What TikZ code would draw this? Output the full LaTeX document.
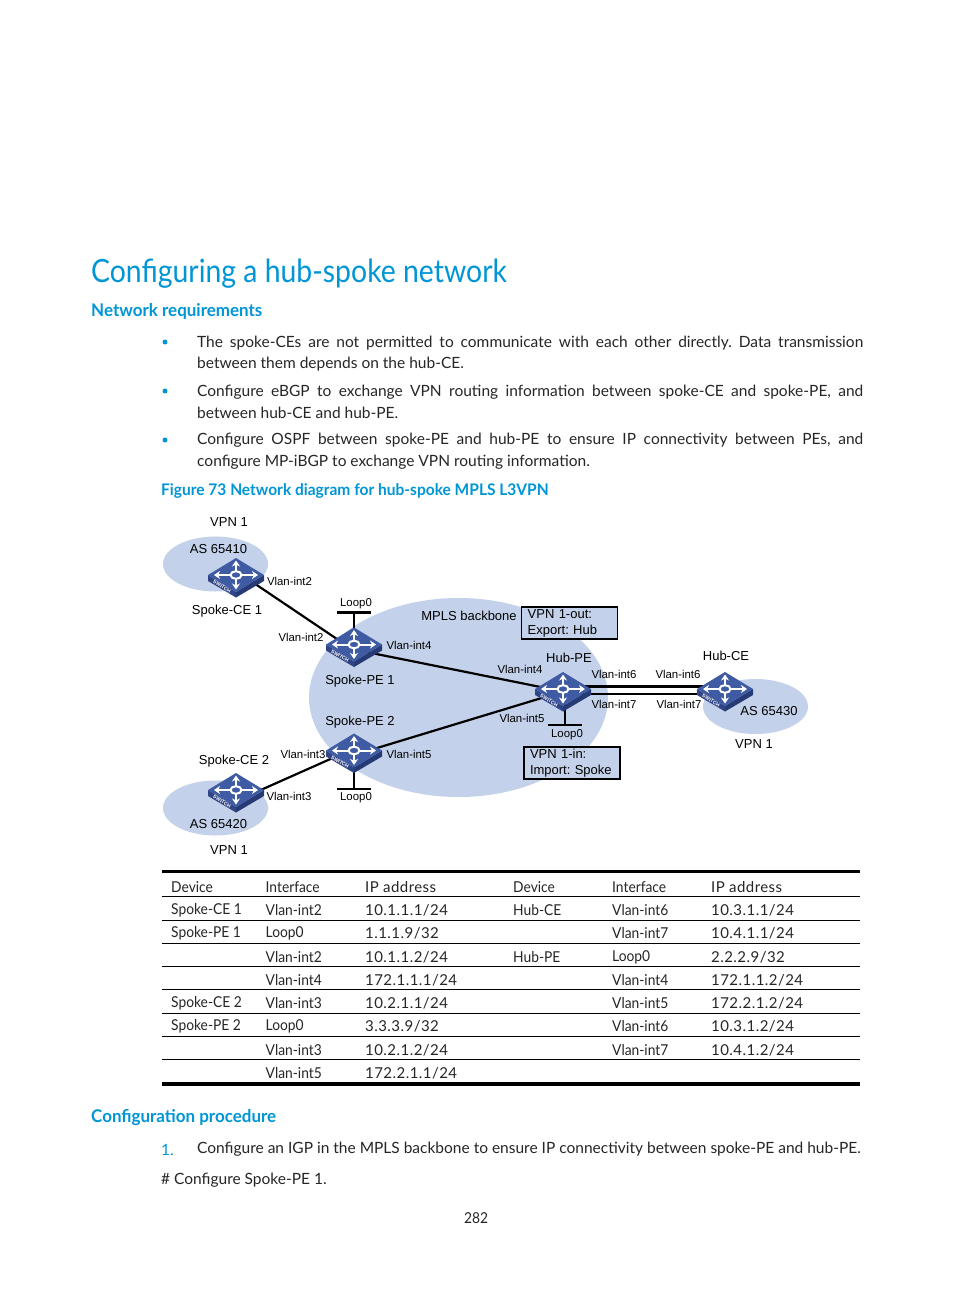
\documentclass[tikz,border=0pt]{standalone}
\usepackage{fontspec}
\setmainfont{Lato}
\newfontfamily\labelfont{Liberation Sans}
\newfontfamily\titlefont[FakeStretch=0.887]{Lato}
\newfontfamily\headfont[FakeStretch=0.97]{Lato}
\newfontfamily\cellfont[FakeStretch=0.92]{Lato}
\newfontfamily\ipfont[LetterSpace=3]{Lato}
\usetikzlibrary{arrows.meta}

\definecolor{hpblue}{HTML}{0096D6}
\definecolor{cloudfill}{HTML}{C3D1EA}
\definecolor{swtop}{HTML}{3F5BA3}
\definecolor{swleft}{HTML}{2F4585}
\definecolor{swright}{HTML}{263A75}

\newcommand{\justline}[1]{\makebox[666pt][s]{#1}}

\tikzset{
  cloud/.style={fill=cloudfill, draw=none},
  lbl/.style={font=\labelfont\fontsize{11.4}{13}\selectfont, inner sep=0pt},
  biglbl/.style={font=\labelfont\fontsize{13}{15}\selectfont, inner sep=0pt},
  vpnbox/.style={draw=black, line width=1.3pt, fill=cloudfill, minimum width=96pt, minimum height=32pt,
    inner sep=0pt, inner xsep=6pt, align=left, font=\labelfont\fontsize{13}{16}\selectfont, text width=84pt},
  link/.style={line width=2.2pt, draw=black},
  loopbar/.style={line width=2.2pt, draw=black},
  bodytext/.style={anchor=west, inner sep=0pt, align=left, font=\fontsize{15.5}{21.5}\selectfont, text=black!85},
  heading/.style={anchor=west, inner sep=0pt, text=hpblue, font=\headfont\bfseries\fontsize{17.5}{20}\selectfont},
  cell/.style={anchor=west, inner sep=0pt, font=\cellfont\fontsize{15}{18}\selectfont, text=black!85},
  ipcell/.style={anchor=west, inner sep=0pt, font=\ipfont\fontsize{15}{18}\selectfont, text=black!85},
  bullet/.style={circle, fill=hpblue, inner sep=0pt, minimum size=5pt},
  swarrow/.style={white, line width=2pt, -{Stealth[length=6pt,width=8pt]}},
  switch/.pic={
    \fill[swleft] (-28,0) -- (0,17) -- (0,22.5) -- (-28,6) -- cycle;
    \fill[swright] (28,0) -- (0,17) -- (0,22.5) -- (28,6) -- cycle;
    \fill[swtop] (-28,0) -- (0,-17) -- (28,0) -- (0,17) -- cycle;
    \draw[swarrow] (0,-4) -- (0,-14.5);
    \draw[swarrow] (0,4) -- (0,14.5);
    \draw[swarrow] (-6,0) -- (-22,0);
    \draw[swarrow] (6,0) -- (22,0);
    \draw[white, line width=2pt] (0,0) ellipse (5.5 and 3.8);
    \node[rotate=-31, white, inner sep=0pt, font=\labelfont\bfseries\fontsize{5}{5}\selectfont] at (-14,11.5) {SWITCH};
  }
}

\begin{document}
\frenchspacing
\begin{tikzpicture}[x=1pt, y=-1pt, >=Stealth]
  \fill[white] (0,0) rectangle (954,1296);
  \useasboundingbox (0,0) rectangle (954,1296);

  % page headings and text
  \node[anchor=west, inner sep=0pt, text=hpblue, font=\titlefont\fontsize{32}{36}\selectfont] (title) at (91,274) {Configuring a hub-spoke network};
  \node[heading] (netreq) at (91,311) {Network requirements};
  \node[bullet] (b1) at (165,342) {};
  \node[bodytext] (p1) at (197,353.5) {\justline{The spoke-CEs are not permitted to communicate with each other directly. Data transmission}\\between them depends on the hub-CE.};
  \node[bullet] (b2) at (165,391) {};
  \node[bodytext] (p2) at (197,402) {\justline{Configure eBGP to exchange VPN routing information between spoke-CE and spoke-PE, and}\\between hub-CE and hub-PE.};
  \node[bullet] (b3) at (165,440) {};
  \node[bodytext] (p3) at (197,451) {\justline{Configure OSPF between spoke-PE and hub-PE to ensure IP connectivity between PEs, and}\\configure MP-iBGP to exchange VPN routing information.};
  \node[heading, font=\headfont\bfseries\fontsize{16}{20}\selectfont] (figcap) at (161,491) {Figure 73 Network diagram for hub-spoke MPLS L3VPN};

  % clouds
  \fill[cloud] (215.5,564) ellipse (52.5 and 27.5);
  \fill[cloud] (215.5,808) ellipse (52.5 and 27.5);
  \fill[cloud] (755.5,706.5) ellipse (52.5 and 27.5);
  \fill[cloud] (458.5,697.5) ellipse (149.5 and 99.5);

  % devices
  \coordinate (spokece1) at (236,575);
  \coordinate (spokece2) at (236,790);
  \coordinate (spokepe1) at (354,644.5);
  \coordinate (spokepe2) at (354,750.5);
  \coordinate (hubpe) at (563,689);
  \coordinate (hubce) at (725,689);
  \coordinate (loop1) at (354,612.5);
  \coordinate (loop2) at (354,789);
  \coordinate (loop3) at (565,725);

  % links
  \draw[link] ([yshift=4pt]spokece1) -- ([yshift=-6pt]spokepe1);
  \draw[link] ([yshift=-11pt]spokece2) -- ([yshift=2pt]spokepe2);
  \draw[link] ([yshift=-5pt]spokepe1) -- ([yshift=-2.5pt]hubpe);
  \draw[link] ([yshift=-4.5pt]spokepe2) -- ([yshift=-2.5pt]hubpe);
  \draw[line width=3pt] ([yshift=3pt]hubpe) -- ([yshift=3pt]hubce);
  \draw[link] ([yshift=-4.7pt]hubpe) -- ([yshift=-4.7pt]hubce);
  \draw[loopbar] (loop1) -- (spokepe1);
  \draw[loopbar] (spokepe2) -- (loop2);
  \draw[loopbar] (loop3 |- hubpe) -- (loop3);
  \draw[loopbar] ([xshift=-17pt]loop1) -- ([xshift=17pt]loop1);
  \draw[loopbar] ([xshift=-17pt]loop2) -- ([xshift=17pt]loop2);
  \draw[loopbar] ([xshift=-17pt]loop3) -- ([xshift=17pt]loop3);

  \pic at (spokece1) {switch};
  \pic at (spokece2) {switch};
  \pic at (spokepe1) {switch};
  \pic at (spokepe2) {switch};
  \pic at (hubpe) {switch};
  \pic at (hubce) {switch};

  % boxes
  \node[vpnbox] (vpnout) at (569.7,623) {VPN 1-out:\\Export: Hub};
  \node[vpnbox] (vpnin) at (572,763) {VPN 1-in:\\Import: Spoke};

  % big labels
  \foreach \n/\x/\y/\t in {vpna/229/522/VPN 1, asa/218.5/549/AS 65410, cea/227/611/Spoke-CE 1,
    mpls/469/616/MPLS backbone, pea/360/681/Spoke-PE 1, peb/360/722/Spoke-PE 2, ceb/234/761/Spoke-CE 2,
    asb/218.5/824/AS 65420, vpnb/229/850/VPN 1, hpe/569/658/Hub-PE, hce/726/656/Hub-CE,
    asc/769/711/AS 65430, vpnc/754/744/VPN 1}
    \node[biglbl] (\n) at (\x,\y) {\t};

  % interface labels
  \foreach \n/\x/\y/\t in {ifa/289.5/581/Vlan-int2, ifb/301/637/Vlan-int2, ifc/409/645/Vlan-int4,
    ifd/303/754/Vlan-int3, ife/409/754/Vlan-int5, iff/289/796/Vlan-int3, ifg/520/669/Vlan-int4,
    ifh/614/674/Vlan-int6, ifi/678/674/Vlan-int6, ifj/614/704/Vlan-int7, ifk/679/704/Vlan-int7,
    ifl/522/718/Vlan-int5, lpa/356/604/Loop0, lpb/356/798/Loop0, lpc/567/735/Loop0}
    \node[lbl] (\n) at (\x,\y) {\t};

  % table
  \draw[line width=3.5pt] (162,871.5) -- (860,871.5);
  \draw[line width=4pt] (162,1083.5) -- (860,1083.5);
  \foreach \y in {896.5,920.5,943.5,966.5,989.5,1013,1036.5,1059.5}
    \draw[line width=1pt] (162,\y) -- (860,\y);
  \foreach \i/\y/\a/\b/\c/\d/\e/\f in {
    0/887.5/Device/Interface/IP address/Device/Interface/IP address,
    1/910.5/Spoke-CE 1/Vlan-int2/{10.1.1.1/24}/Hub-CE/Vlan-int6/{10.3.1.1/24},
    2/933.5/Spoke-PE 1/Loop0/{1.1.1.9/32}//Vlan-int7/{10.4.1.1/24},
    3/957.5//Vlan-int2/{10.1.1.2/24}/Hub-PE/Loop0/{2.2.2.9/32},
    4/980.5//Vlan-int4/{172.1.1.1/24}//Vlan-int4/{172.1.1.2/24},
    5/1003.5/Spoke-CE 2/Vlan-int3/{10.2.1.1/24}//Vlan-int5/{172.2.1.2/24},
    6/1026.5/Spoke-PE 2/Loop0/{3.3.3.9/32}//Vlan-int6/{10.3.1.2/24},
    7/1050.5//Vlan-int3/{10.2.1.2/24}//Vlan-int7/{10.4.1.2/24},
    8/1073.5//Vlan-int5/{172.2.1.1/24}///}
  {
    \node[cell] (ra\i) at (171,\y) {\a};
    \node[cell] (rb\i) at (265.5,\y) {\b};
    \node[ipcell] (rc\i) at (365,\y) {\c};
    \node[cell] (rd\i) at (513,\y) {\d};
    \node[cell] (re\i) at (612,\y) {\e};
    \node[ipcell] (rf\i) at (711,\y) {\f};
  }

  % procedure
  \node[heading] (confproc) at (91,1118) {Configuration procedure};
  \node[anchor=west, inner sep=0pt, text=hpblue, font=\fontsize{15.5}{18}\selectfont] (num) at (161,1149.5) {1.};
  \node[bodytext] (step) at (197,1149.5) {Configure an IGP in the MPLS backbone to ensure IP connectivity between spoke-PE and hub-PE.};
  \node[bodytext] (cmt) at (161,1180.5) {\# Configure Spoke-PE 1.};
  \node[cell] (pageno) at (464,1218) {282};
\end{tikzpicture}
\end{document}
